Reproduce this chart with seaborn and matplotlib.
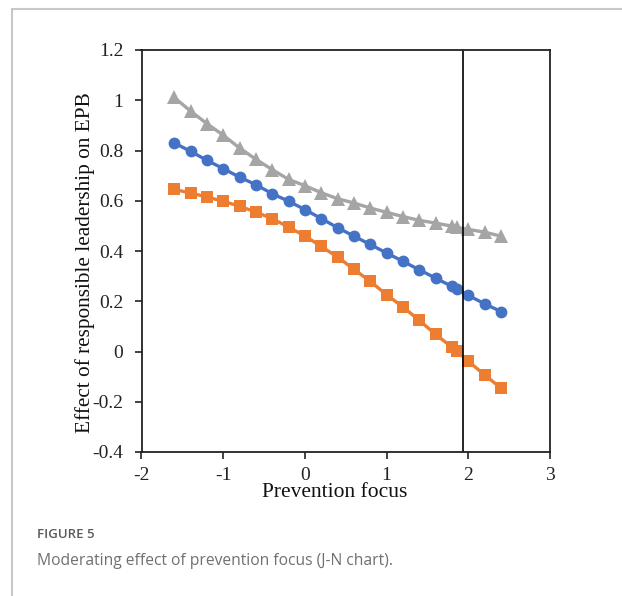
import numpy as np
import pandas as pd
import matplotlib
matplotlib.use("Agg")
import matplotlib.pyplot as plt
from matplotlib.lines import Line2D
import seaborn as sns

BLUE   = "#4472C4"
ORANGE = "#ED7D31"
GRAY   = "#A5A5A5"

# prevention focus values (extra point at the J-N boundary, 1.86)
focus = [-1.6, -1.4, -1.2, -1.0, -0.8, -0.6, -0.4, -0.2, 0.0, 0.2, 0.4,
         0.6, 0.8, 1.0, 1.2, 1.4, 1.6, 1.8, 1.86, 2.0, 2.2, 2.4]

upper = [1.011, 0.957, 0.907, 0.861, 0.810, 0.765, 0.724, 0.685, 0.660, 0.632, 0.608,
         0.591, 0.571, 0.554, 0.537, 0.522, 0.511, 0.499, 0.494, 0.486, 0.475, 0.459]
effect = [0.830, 0.797, 0.761, 0.728, 0.694, 0.664, 0.628, 0.598, 0.565, 0.529, 0.493,
          0.459, 0.426, 0.392, 0.359, 0.325, 0.292, 0.259, 0.250, 0.223, 0.190, 0.159]
lower = [0.645, 0.631, 0.615, 0.598, 0.578, 0.555, 0.529, 0.495, 0.460, 0.418, 0.376,
         0.327, 0.279, 0.226, 0.177, 0.124, 0.068, 0.017, 0.001, -0.039, -0.093, -0.146]

jn_line = 1.94

x_ticks = [-2, -1, 0, 1, 2, 3]
y_ticks = [-0.4, -0.2, 0, 0.2, 0.4, 0.6, 0.8, 1.0, 1.2]
y_labels = ["-0.4", "-0.2", "0", "0.2", "0.4", "0.6", "0.8", "1", "1.2"]

df = pd.concat([
    pd.DataFrame({"focus": focus, "value": upper, "series": "upper"}),
    pd.DataFrame({"focus": focus, "value": effect, "series": "effect"}),
    pd.DataFrame({"focus": focus, "value": lower, "series": "lower"}),
])

sns.set_style("white")
plt.rcParams["font.family"] = ["Liberation Serif", "DejaVu Serif"]

fig = plt.figure(figsize=(6.22, 5.96), dpi=100)
ax = fig.add_axes([141.5 / 622, 1 - 452 / 596, (550 - 141.5) / 622, (452 - 50) / 596])

sns.lineplot(
    data=df, x="focus", y="value", hue="series", style="series",
    palette={"upper": GRAY, "effect": BLUE, "lower": ORANGE},
    markers={"upper": "^", "effect": "o", "lower": "s"},
    dashes=False, linewidth=2.4, markersize=8.5, markeredgewidth=0,
    sort=False, estimator=None, legend=False, ax=ax,
)
# triangles a touch larger
ax.lines[0].set_markersize(9.5)
ax.axvline(jn_line, color="black", linewidth=1.2)

ax.set_xlim(-2, 3)
ax.set_ylim(-0.4, 1.2)
ax.set_xticks(x_ticks)
ax.set_xticklabels([str(t) for t in x_ticks])
ax.set_yticks(y_ticks)
ax.set_yticklabels(y_labels)
ax.tick_params(axis="both", direction="out", length=5, width=1.2,
               labelsize=14, colors="#222222", left=True, bottom=True)
ax.tick_params(axis="x", pad=6)
ax.tick_params(axis="y", pad=8)
for sp in ax.spines.values():
    sp.set_visible(True)
    sp.set_color("#222222")
    sp.set_linewidth(1.3)

ax.set_xlabel("Prevention focus", fontsize=15.5, color="#111111", va="top")
ax.xaxis.set_label_coords(0.474, -0.078)
ax.set_ylabel("Effect of responsible leadership on EPB", fontsize=15.3, color="#111111")
ax.yaxis.set_label_coords(-0.114, 0.47)

# page frame
fig.add_artist(Line2D([12 / 622, 12 / 622], [0, 1 - 8.5 / 596],
                      transform=fig.transFigure, color="#c8c8c8", linewidth=1.5))
fig.add_artist(Line2D([12 / 622, 1], [1 - 8.5 / 596, 1 - 8.5 / 596],
                      transform=fig.transFigure, color="#c8c8c8", linewidth=1.5))

fig.text(37 / 622, 1 - 535 / 596, "FIGURE 5", fontsize=9.5, color="#5a5a5a",
         fontweight="semibold", family=["Open Sans", "DejaVu Sans"],
         va="center", ha="left")
fig.text(37 / 622, 1 - 561 / 596, "Moderating effect of prevention focus (J-N chart).",
         fontsize=11.25, color="#707070", family=["Open Sans", "DejaVu Sans"],
         va="center", ha="left")

fig.savefig("out.png", dpi=100)
